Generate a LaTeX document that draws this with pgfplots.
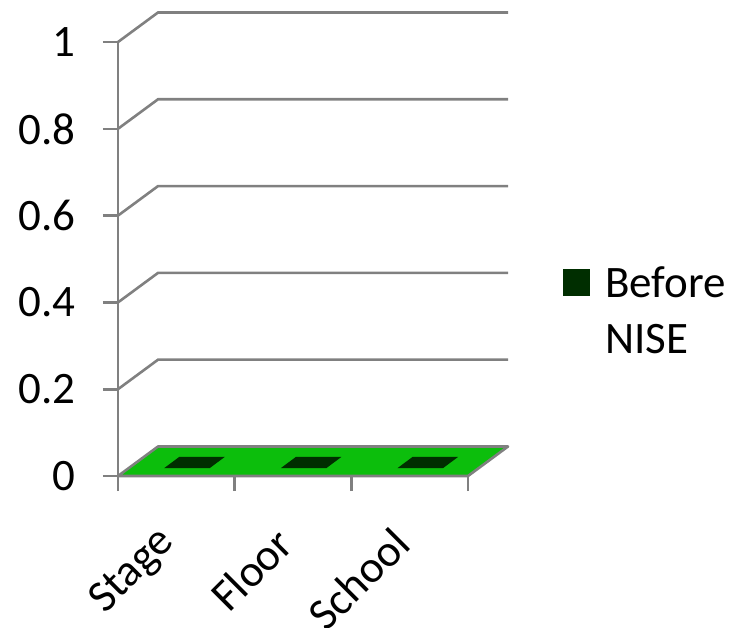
\documentclass[border=0pt]{standalone}
\usepackage{pgfplots}
\pgfplotsset{compat=1.18}
\usepackage{fontspec}
\setmainfont{Carlito}
\definecolor{gridgray}{RGB}{128,128,128}
\definecolor{floorgreen}{RGB}{12,190,12}
\definecolor{bargreen}{RGB}{0,46,0}
\begin{document}
\begin{tikzpicture}
\useasboundingbox (0,0) rectangle (736pt,-627pt);
\begin{axis}[
  at={(118pt,-476pt)}, anchor=south west,
  scale only axis, width=350pt, height=434pt,
  xmin=0, xmax=3, ymin=0, ymax=1,
  clip=false,
  axis x line*=bottom, axis y line*=left,
  axis line style={gridgray, line width=2.6pt},
  every tick/.style={gridgray, line width=2.6pt},
  tick align=outside, major tick length=15pt,
  xtick={0,1,2,3}, xticklabels={Stage,Floor,School},
  x tick label as interval,
  ytick={0,0.2,0.4,0.6,0.8,1},
  yticklabels={0,0.2,0.4,0.6,0.8,1},
  /pgf/number format/assume math mode=true,
  tick label style={font=\fontsize{45pt}{54pt}\selectfont, black},
  yticklabel style={anchor=east, inner sep=0pt, xshift=-27pt},
  xticklabel style={xshift=-8pt, yshift=-45pt, rotate=45, anchor=east, inner sep=0pt},
  legend style={draw=none, fill=none, inner sep=0pt, at={(1.271,0.503)}, anchor=north west,
    font=\fontsize{45pt}{56pt}\selectfont, nodes={inner sep=0pt},
    /tikz/every odd column/.append style={column sep=15pt}},
  legend cell align=left,
  legend image code/.code={\fill[#1] (0pt,-18pt) rectangle (27pt,9pt);},
]
% back wall gridlines
\addplot[forget plot, gridgray, line width=2.6pt] coordinates {(0,0.2) (0.343,0.268) (3.343,0.268)};
\addplot[forget plot, gridgray, line width=2.6pt] coordinates {(0,0.4) (0.343,0.468) (3.343,0.468)};
\addplot[forget plot, gridgray, line width=2.6pt] coordinates {(0,0.6) (0.343,0.668) (3.343,0.668)};
\addplot[forget plot, gridgray, line width=2.6pt] coordinates {(0,0.8) (0.343,0.868) (3.343,0.868)};
\addplot[forget plot, gridgray, line width=2.6pt] coordinates {(0,1.0) (0.343,1.068) (3.343,1.068)};
% floor
\addplot[forget plot, fill=floorgreen, draw=gridgray, line width=2.6pt, line join=round]
  coordinates {(0,0) (3,0) (3.343,0.068) (0.343,0.068) (0,0)};
% bars (value 0 for each category)
\addplot[fill=bargreen, draw=none]
  coordinates {(0.395,0.018) (0.785,0.018) (0.915,0.044) (0.525,0.044) (0.395,0.018)};
\addlegendentry{\begin{tabular}[t]{@{}l@{}}Before\\NISE\end{tabular}}
\addplot[forget plot, fill=bargreen, draw=none]
  coordinates {(1.395,0.018) (1.785,0.018) (1.915,0.044) (1.525,0.044) (1.395,0.018)};
\addplot[forget plot, fill=bargreen, draw=none]
  coordinates {(2.395,0.018) (2.785,0.018) (2.915,0.044) (2.525,0.044) (2.395,0.018)};
\end{axis}
\end{tikzpicture}
\end{document}
